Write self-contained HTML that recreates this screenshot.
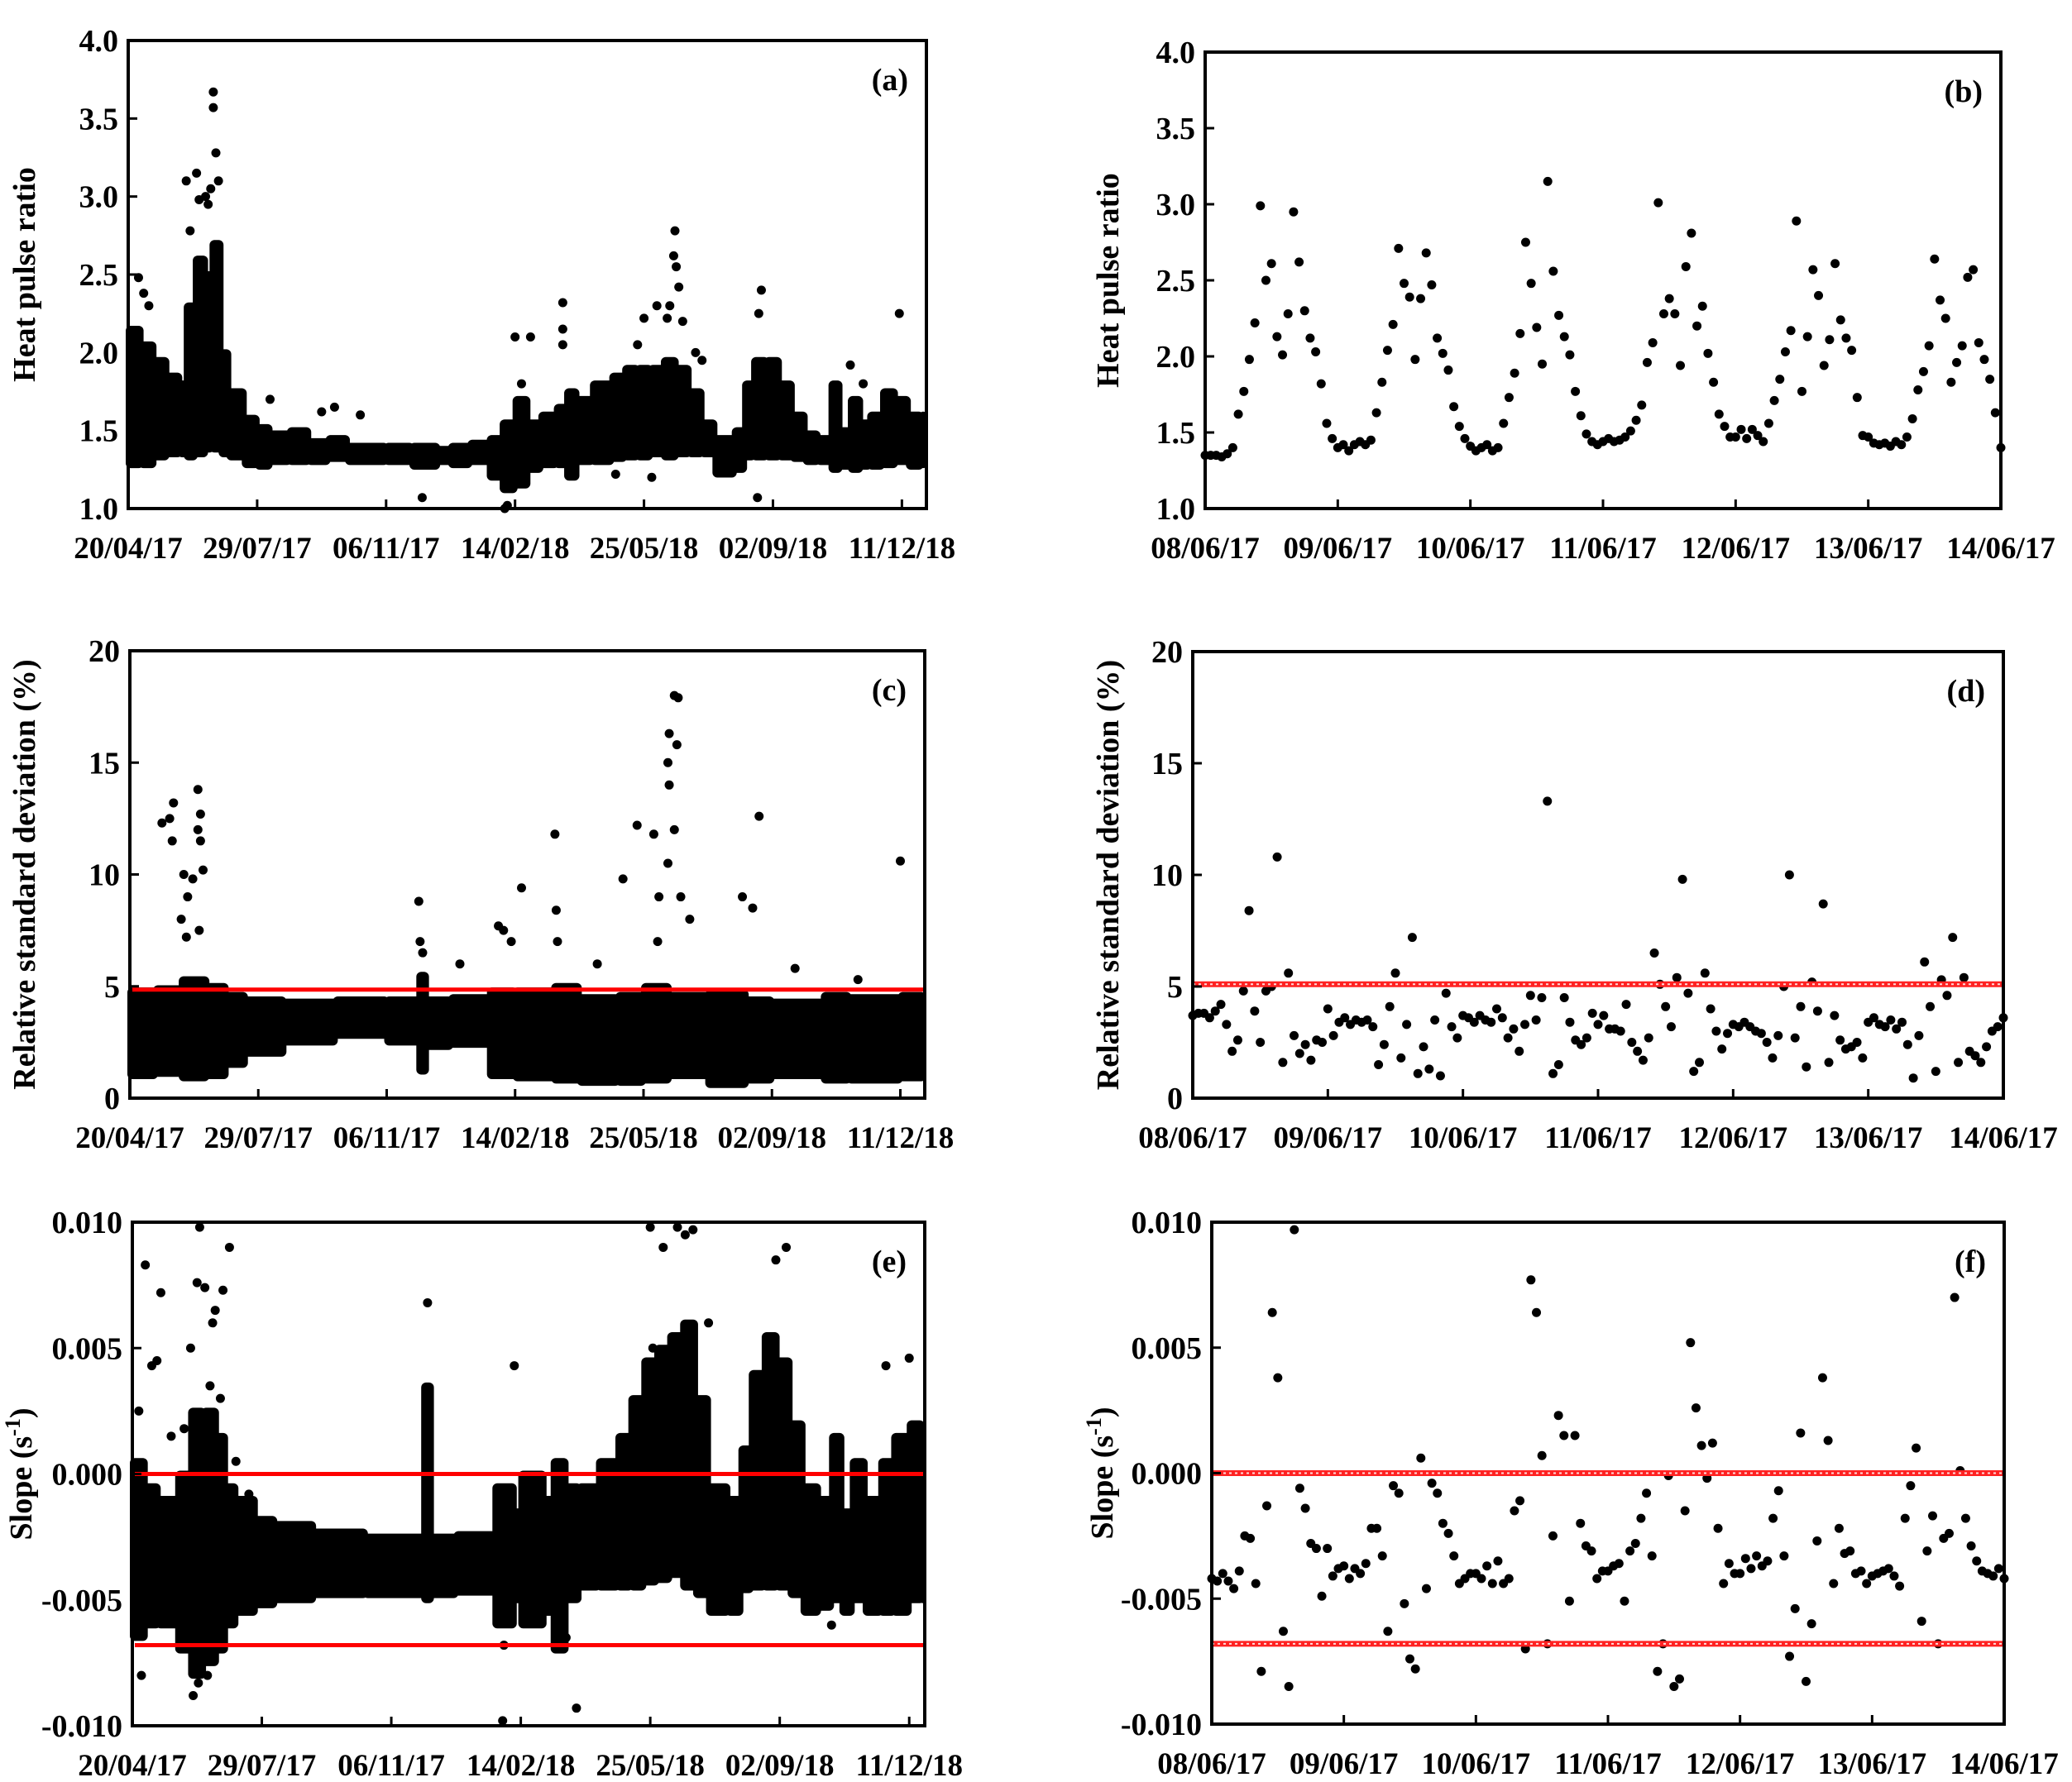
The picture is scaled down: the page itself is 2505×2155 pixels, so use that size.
<!DOCTYPE html>
<html><head><meta charset="utf-8"><style>
html,body{margin:0;padding:0;background:#fff}
svg{display:block}
text{font-family:"Liberation Serif",serif;font-weight:bold;fill:#000}
</style></head><body>
<svg id="fig" width="2505" height="2155" viewBox="0 0 2505 2155" xmlns="http://www.w3.org/2000/svg"></svg>
<script>
// ---- long-term panel data (days since 20/04/17) ----
const longTicks = ["20/04/17","29/07/17","06/11/17","14/02/18","25/05/18","02/09/18","11/12/18"];
const aBinStart = [0,10,20,30,40,45,52,60,65,72,78,90,100,110,125,140,155,170,200,220,240,250,265,280,290,300,310,320,332,340,348,360,375,385,395,405,415,425,435,445,455,470,478,485,495,505,515,525,535,545,552,560,568,575,585,595,605,615];
const aLo = [1.28,1.28,1.33,1.35,1.35,1.33,1.35,1.38,1.38,1.35,1.33,1.28,1.27,1.3,1.3,1.3,1.32,1.3,1.3,1.27,1.3,1.28,1.3,1.2,1.12,1.15,1.25,1.28,1.28,1.2,1.3,1.3,1.32,1.33,1.33,1.35,1.33,1.35,1.35,1.35,1.22,1.25,1.33,1.33,1.33,1.33,1.32,1.3,1.3,1.25,1.27,1.25,1.27,1.27,1.28,1.3,1.27,1.28];
const aHi = [2.15,2.05,1.95,1.85,1.8,2.3,2.6,2.5,2.7,2.0,1.75,1.58,1.52,1.48,1.5,1.43,1.45,1.4,1.4,1.4,1.38,1.4,1.42,1.45,1.55,1.7,1.55,1.6,1.65,1.75,1.7,1.8,1.85,1.9,1.9,1.9,1.95,1.9,1.75,1.55,1.45,1.5,1.8,1.95,1.95,1.8,1.6,1.48,1.45,1.8,1.5,1.7,1.55,1.6,1.75,1.7,1.6,1.6];
const aOutDay = [66,66,68,53,45,60,64,70,62,55,48,8,12,16,424,423,425,427,430,420,491,489,598,337,300,312,337,337,305,228,488,292,294,406,378,150,180,160,110,418,560,570,410,400,395,440,445];
const aOutVal = [3.67,3.57,3.28,3.15,3.1,3.0,3.05,3.1,2.95,2.98,2.78,2.48,2.38,2.3,2.78,2.62,2.55,2.42,2.2,2.3,2.4,2.25,2.25,2.32,2.1,2.1,2.15,2.05,1.8,1.07,1.07,1.0,1.02,1.2,1.22,1.62,1.6,1.65,1.7,2.22,1.92,1.8,2.3,2.22,2.05,2.0,1.95];

const cBinStart = [0,20,40,60,75,90,120,160,200,225,231,250,280,300,330,350,380,400,420,450,480,500,540,560,600];
const cLo = [1.0,1.1,0.9,1.0,1.5,2.0,2.5,2.8,2.5,1.2,2.3,2.4,1.0,0.9,0.8,0.7,0.7,0.8,1.0,0.6,0.8,1.0,0.8,0.8,0.9];
const cHi = [4.8,4.9,5.3,5.0,4.6,4.4,4.3,4.4,4.4,5.5,4.4,4.5,4.8,4.8,5.0,4.5,4.6,5.0,4.6,4.7,4.4,4.3,4.6,4.5,4.6];
const cOutDay = [25,31,34,33,53,55,53,55,57,40,44,49,54,42,45,225,226,228,257,287,291,297,305,331,332,333,364,384,395,408,412,411,420,424,427,419,420,426,424,429,436,419,477,485,490,518,600,567];
const cOutVal = [12.3,12.5,13.2,11.5,13.8,12.7,12.0,11.5,10.2,8.0,7.2,9.8,7.5,10.0,9.0,8.8,7.0,6.5,6.0,7.7,7.5,7.0,9.4,11.8,8.4,7.0,6.0,9.8,12.2,11.8,9.0,7.0,16.3,18.0,17.9,15.0,14.0,15.8,12.0,9.0,8.0,10.5,9.0,8.5,12.6,5.8,10.6,5.3];
const cRed = [4.85];

const eBinStart = [0,10,20,35,45,55,65,72,80,95,110,140,180,225,231,250,280,295,300,318,325,335,345,360,375,385,395,405,415,425,435,445,460,470,478,488,498,508,518,530,540,548,556,566,578,588,600,610];
const eLo = [-6.5,-6.0,-6.0,-7.0,-8.0,-7.5,-7.0,-6.0,-5.5,-5.2,-5.0,-4.8,-4.8,-5.0,-4.8,-4.7,-6.0,-5.0,-6.0,-5.5,-7.0,-5.0,-4.5,-4.5,-4.5,-4.5,-4.3,-4.2,-4.0,-4.5,-4.8,-5.5,-5.5,-4.6,-4.5,-4.5,-4.5,-4.8,-5.5,-5.3,-5.0,-5.5,-5.0,-5.5,-5.5,-5.5,-5.0,-5.0];
const eHi = [0.5,-0.5,-1.0,0.0,2.5,2.5,1.5,-0.5,-1.0,-1.8,-2.0,-2.3,-2.5,3.5,-2.5,-2.4,-0.5,-1.5,0.0,-1.0,0.5,-0.5,-0.5,0.5,1.5,3.0,4.5,5.0,5.5,6.0,3.0,-0.5,-1.0,1.0,4.0,5.5,4.5,2.0,-0.5,-1.0,1.5,-1.5,0.5,-1.0,0.5,1.5,2.0,1.0];
const eOutDay = [7,10,19,22,50,52,56,64,75,47,51,58,228,295,286,343,402,445,400,410,421,427,433,505,497,600,582,540,287,335,45,62,70,5,15,30,40,60,68,80,90];
const eOutVal = [-8.0,8.3,4.5,7.2,7.6,9.8,7.4,6.5,9.0,-8.8,-8.3,-8.0,6.8,4.3,-9.8,-9.3,5.0,6.0,9.8,9.0,9.8,9.5,9.7,9.0,8.5,4.6,4.3,-6.0,-6.8,-6.5,5.0,6.0,7.3,2.5,4.3,1.5,1.8,3.5,3.0,0.5,-0.8];
const eRed = [0, -6.8];

// ---- 6-day panels (hourly points from 08/06/17 00:00) ----
const shortTicks = ["08/06/17","09/06/17","10/06/17","11/06/17","12/06/17","13/06/17","14/06/17"];
const bVals = [1.35,1.35,1.35,1.34,1.36,1.40,1.62,1.77,1.98,2.22,2.99,2.50,2.61,2.13,2.01,2.28,2.95,2.62,2.30,2.12,2.03,1.82,1.56,1.46,
1.40,1.42,1.38,1.42,1.44,1.42,1.45,1.63,1.83,2.04,2.21,2.71,2.48,2.39,1.98,2.38,2.68,2.47,2.12,2.02,1.91,1.67,1.54,1.46,
1.41,1.38,1.40,1.42,1.38,1.40,1.56,1.73,1.89,2.15,2.75,2.48,2.19,1.95,3.15,2.56,2.27,2.13,2.01,1.77,1.61,1.49,1.44,1.42,
1.44,1.46,1.44,1.45,1.47,1.51,1.58,1.68,1.96,2.09,3.01,2.28,2.38,2.28,1.94,2.59,2.81,2.20,2.33,2.02,1.83,1.62,1.54,1.47,
1.47,1.52,1.46,1.52,1.48,1.44,1.56,1.71,1.85,2.03,2.17,2.89,1.77,2.13,2.57,2.40,1.94,2.11,2.61,2.24,2.12,2.04,1.73,1.48,
1.47,1.43,1.42,1.43,1.41,1.44,1.42,1.47,1.59,1.78,1.90,2.07,2.64,2.37,2.25,1.83,1.96,2.07,2.52,2.57,2.09,1.98,1.85,1.63,
1.40];
const dVals = [3.7,3.8,3.8,3.6,3.9,4.2,3.3,2.1,2.6,4.8,8.4,3.9,2.5,4.8,5.0,10.8,1.6,5.6,2.8,2.0,2.4,1.7,2.6,2.5,
4.0,2.8,3.4,3.6,3.3,3.5,3.4,3.5,3.2,1.5,2.4,4.1,5.6,1.8,3.3,7.2,1.1,2.3,1.3,3.5,1.0,4.7,3.2,2.7,
3.7,3.6,3.4,3.7,3.5,3.4,4.0,3.6,2.7,3.1,2.1,3.3,4.6,3.5,4.5,13.3,1.1,1.5,4.5,3.4,2.6,2.4,2.7,3.8,
3.3,3.7,3.1,3.1,3.0,4.2,2.5,2.1,1.7,2.7,6.5,5.1,4.1,3.2,5.4,9.8,4.7,1.2,1.6,5.6,4.0,3.0,2.2,2.9,
3.3,3.2,3.4,3.2,3.0,2.9,2.5,1.8,2.8,5.0,10.0,2.7,4.1,1.4,5.2,3.9,8.7,1.6,3.7,2.6,2.2,2.3,2.5,1.8,
3.4,3.6,3.3,3.2,3.5,3.1,3.4,2.4,0.9,2.8,6.1,4.1,1.2,5.3,4.6,7.2,1.6,5.4,2.1,1.9,1.6,2.3,3.0,3.2,
3.6];
const dRed = [5.1];
const fVals = [-4.2,-4.3,-4.0,-4.3,-4.6,-3.9,-2.5,-2.6,-4.4,-7.9,-1.3,6.4,3.8,-6.3,-8.5,9.7,-0.6,-1.4,-2.8,-3.0,-4.9,-3.0,-4.1,-3.8,
-3.7,-4.2,-3.8,-4.0,-3.6,-2.2,-2.2,-3.3,-6.3,-0.5,-0.8,-5.2,-7.4,-7.8,0.6,-4.6,-0.4,-0.8,-2.0,-2.4,-3.3,-4.4,-4.2,-4.0,
-4.0,-4.2,-3.7,-4.4,-3.5,-4.4,-4.2,-1.5,-1.1,-7.0,7.7,6.4,0.7,-6.8,-2.5,2.3,1.5,-5.1,1.5,-2.0,-2.9,-3.1,-4.2,-3.9,
-3.9,-3.7,-3.6,-5.1,-3.1,-2.8,-1.8,-0.8,-3.3,-7.9,-6.8,-0.1,-8.5,-8.2,-1.5,5.2,2.6,1.1,-0.2,1.2,-2.2,-4.4,-3.6,-4.0,
-4.0,-3.4,-3.8,-3.3,-3.7,-3.5,-1.8,-0.7,-3.3,-7.3,-5.4,1.6,-8.3,-6.0,-2.7,3.8,1.3,-4.4,-2.2,-3.2,-3.1,-4.0,-3.9,-4.4,
-4.1,-4.0,-3.9,-3.8,-4.1,-4.5,-1.8,-0.5,1.0,-5.9,-3.1,-1.7,-6.8,-2.6,-2.4,7.0,0.1,-1.8,-2.9,-3.5,-3.9,-4.0,-4.1,-3.8,
-4.2];
const fRed = [0, -6.8];

const NS = "http://www.w3.org/2000/svg";
const svg = document.getElementById('fig');
function el(tag, attrs, parent){ const e=document.createElementNS(NS,tag); for(const k in attrs) e.setAttribute(k,attrs[k]); (parent||svg).appendChild(e); return e; }

function makePanel(p){
  const g = el('g',{});
  
  
  p.sx = v => p.L + (v - p.xmin)/(p.xmax - p.xmin)*(p.R - p.L);
  p.sy = v => p.B - (v - p.ymin)/(p.ymax - p.ymin)*(p.B - p.T);
  p.g = g;
  const plot = el('g',{}, g);
  
  
  p.plot = plot;
  return p;
}
function drawAxes(p){
  const g = p.g;
  const frame = el('rect',{x:p.L,y:p.T,width:p.R-p.L,height:p.B-p.T,fill:'none',stroke:'#000','stroke-width':4}, g);
  
  
  p.yTicks.forEach((t,i)=>{
    const y = p.sy(t);
    el('line',{x1:p.L,x2:p.L+11,y1:y,y2:y,stroke:'#000','stroke-width':3}, g);
    const tx = el('text',{x:p.L-12,y:y+13,'font-size':38,'text-anchor':'end'}, g);
    tx.textContent = p.yLabels[i];
    
    
  });
  p.xTickVals.forEach((t,i)=>{
    const x = p.sx(t);
    el('line',{x1:x,x2:x,y1:p.B,y2:p.B-11,stroke:'#000','stroke-width':3}, g);
    const tx = el('text',{x:x,y:p.B+60,'font-size':37,'text-anchor':'middle'}, g);
    tx.textContent = p.xLabels[i];
    
    
  });
  const lab = el('text',{x:p.R-22,y:p.T+60,'font-size':38,'text-anchor':'end','font-weight':'normal'}, g);
  lab.textContent = '(' + p.id + ')';
  
  
  const cy = (p.T+p.B)/2;
  const ti = el('text',{x:p.titleX,y:cy,'font-size':38,'text-anchor':'middle',transform:`rotate(-90 ${p.titleX} ${cy})`}, g);
  
  
  if(p.slope){
    ti.textContent = 'Slope (s';
    const sup = el('tspan',{dy:-14,'font-size':26}, ti); sup.textContent='-1';
    const cl = el('tspan',{dy:14}, ti); cl.textContent=')';
  } else ti.textContent = p.title;
}
function dot(p,x,y,name){
  const c = el('circle',{cx:p.sx(x),cy:p.sy(y),r:p.r||5,fill:'#000'}, p.plot);
  
  
}
function bands(p, starts, lo, hi){
  for(let i=0;i<starts.length;i++){
    const x0 = p.sx(starts[i]), x1 = p.sx(i+1<starts.length?starts[i+1]:p.xmax-1);
    const y0 = p.sy(hi[i]), y1 = p.sy(lo[i]);
    const r = el('rect',{x:x0-3,y:y0-4,width:x1-x0+6,height:y1-y0+8,rx:6,fill:'#000'}, p.plot);
    
    
  }
}
function redSolid(p, vals){
  vals.forEach(v=>{
    const l = el('line',{x1:p.L+3,x2:p.R-2,y1:p.sy(v),y2:p.sy(v),stroke:'#f00','stroke-width':5}, p.g);
    
    
  });
}
function redDotted(p, vals){
  vals.forEach(v=>{
    const y = p.sy(v);
    const l = el('line',{x1:p.L,x2:p.R,y1:y,y2:y,stroke:'#f22','stroke-width':7}, p.g);
    
    
    el('line',{x1:p.L,x2:p.R,y1:y,y2:y,stroke:'#fdd','stroke-width':2,'stroke-dasharray':'3 4'}, p.g);
  });
}
const longXT = [0,100,200,300,400,500,600];
const shortXT = [0,24,48,72,96,120,144];

// (a)
let pa = makePanel({id:'a',L:155,R:1120,T:49,B:615,xmin:0,xmax:619,ymin:1,ymax:4,
  yTicks:[1,1.5,2,2.5,3,3.5,4],yLabels:['1.0','1.5','2.0','2.5','3.0','3.5','4.0'],
  xTickVals:longXT,xLabels:longTicks,titleX:42,title:'Heat pulse ratio',r:5.5});
bands(pa,aBinStart,aLo,aHi);
aOutDay.forEach((d,i)=>dot(pa,d,aOutVal[i],'outlier-point'));
drawAxes(pa);

// (b)
let pb = makePanel({id:'b',L:1457,R:2419,T:63,B:615,xmin:0,xmax:144,ymin:1,ymax:4,
  yTicks:[1,1.5,2,2.5,3,3.5,4],yLabels:['1.0','1.5','2.0','2.5','3.0','3.5','4.0'],
  xTickVals:shortXT,xLabels:shortTicks,titleX:1352,title:'Heat pulse ratio',r:5.5});
bVals.forEach((v,i)=>dot(pb,i,v,'data-point'));
drawAxes(pb);

// (c)
let pc = makePanel({id:'c',L:157,R:1118,T:787,B:1328,xmin:0,xmax:619,ymin:0,ymax:20,
  yTicks:[0,5,10,15,20],yLabels:['0','5','10','15','20'],
  xTickVals:longXT,xLabels:longTicks,titleX:42,title:'Relative standard deviation (%)',r:5.5});
bands(pc,cBinStart,cLo,cHi);
cOutDay.forEach((d,i)=>dot(pc,d,cOutVal[i],'outlier-point'));
redSolid(pc,cRed);
drawAxes(pc);

// (d)
let pd = makePanel({id:'d',L:1442,R:2422,T:788,B:1328,xmin:0,xmax:144,ymin:0,ymax:20,
  yTicks:[0,5,10,15,20],yLabels:['0','5','10','15','20'],
  xTickVals:shortXT,xLabels:shortTicks,titleX:1352,title:'Relative standard deviation (%)',r:5.5});
redDotted(pd,dRed);
dVals.forEach((v,i)=>dot(pd,i,v,'data-point'));
drawAxes(pd);

// (e)
let pe = makePanel({id:'e',L:160,R:1118,T:1478,B:2087,xmin:0,xmax:612,ymin:-10,ymax:10,
  yTicks:[-10,-5,0,5,10],yLabels:['-0.010','-0.005','0.000','0.005','0.010'],
  xTickVals:longXT,xLabels:longTicks,titleX:38,slope:true,r:5.5});
bands(pe,eBinStart,eLo,eHi);
eOutDay.forEach((d,i)=>dot(pe,d,eOutVal[i],'outlier-point'));
redSolid(pe,eRed);
drawAxes(pe);

// (f)
let pf = makePanel({id:'f',L:1465,R:2423,T:1478,B:2085,xmin:0,xmax:144,ymin:-10,ymax:10,
  yTicks:[-10,-5,0,5,10],yLabels:['-0.010','-0.005','0.000','0.005','0.010'],
  xTickVals:shortXT,xLabels:shortTicks,titleX:1345,slope:true,r:5.5});
redDotted(pf,fRed);
fVals.forEach((v,i)=>dot(pf,i,v,'data-point'));
drawAxes(pf);
</script>
</body></html>
